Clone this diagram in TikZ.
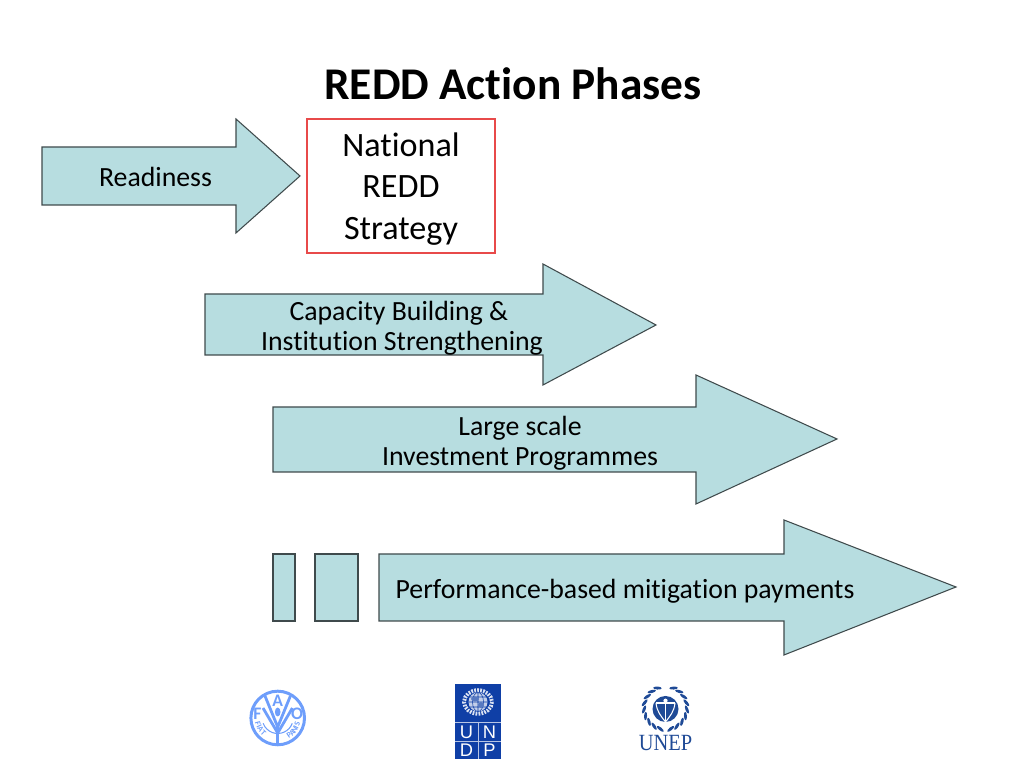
\documentclass[tikz,border=0pt]{standalone}
\usepackage{fontspec}
\setmainfont[Ligatures=CommonOff]{Carlito}
\newfontfamily\unepfont{Liberation Serif}
\newfontfamily\undpfont{Liberation Sans}
\usetikzlibrary{calc}
\definecolor{arrowfill}{HTML}{B7DDE0}
\definecolor{arrowline}{HTML}{3F4A4C}
\definecolor{faoblue}{HTML}{6E9EFB}
\definecolor{undpblue}{HTML}{0F3FA6}
\definecolor{unepblue}{HTML}{1F4A96}
\definecolor{boxred}{HTML}{E84A4A}
\tikzset{
  phase/.style={draw=arrowline,fill=arrowfill,line width=0.3pt},
  phaselabel/.style={align=center,font=\fontsize{7.9}{8.6}\selectfont},
  strategylabel/.style={align=center,font=\fontsize{9.7}{11.7}\selectfont},
  faoletter/.style={text=faoblue,inner sep=0pt,font=\fontsize{5}{6}\selectfont\bfseries},
  faosmall/.style={text=faoblue,inner sep=0pt,font=\fontsize{2.3}{3}\selectfont\bfseries}
}
\begin{document}
\begin{tikzpicture}[x=0.01cm,y=-0.01cm]
      \useasboundingbox (0,0) rectangle (1024,768);
      \node (title) at (513,84) {\fontsize{12.9}{15}\selectfont\bfseries REDD Action Phases};
      % arrows
      \draw[phase] (42,147) -- (236,147) -- (236,119) -- (300,176) -- (236,233) -- (236,205) -- (42,205) -- cycle;
      \draw[phase] (205,294) -- (543,294) -- (543,264) -- (656,325) -- (543,385) -- (543,355) -- (205,355) -- cycle;
      \draw[phase] (273,407) -- (696,407) -- (696,375) -- (837,439) -- (696,504) -- (696,472) -- (273,472) -- cycle;
      \draw[phase] (379,554) -- (784,554) -- (784,520) -- (956,587) -- (784,655) -- (784,621) -- (379,621) -- cycle;
      \draw[phase] (273,554) rectangle (295,621);
      \draw[phase] (315,554) rectangle (358,621);
      \draw[draw=boxred,line width=0.3pt] (307,119) rectangle (495,253);
      % labels
      \node[phaselabel] (readiness) at (155.5,177) {Readiness};
      \node[strategylabel] (strategy) at (401,189) {National\\REDD\\Strategy};
      \node[phaselabel] (capacity) at (402,328) {Capacity Building \&\ \mbox{}\\Institution Strengthening};
      \node[phaselabel] (investment) at (520,443) {Large scale\\Investment Programmes};
      \node[phaselabel] (payments) at (625,591) {Performance-based mitigation payments};
      % FAO
      \begin{scope}[faoblue]
        \draw[line width=0.85pt] (277.7,718) circle (26.8);
        \draw[line width=0.3pt] (277.7,718) ++(20:15.5) arc (20:160:15.5);
        \draw[line width=0.8pt] (265,696) -- (277.7,727) -- (290.4,696);
        \draw[line width=0.8pt] (263,708) -- (277.7,733) -- (292.4,708);
        \draw[line width=0.9pt] (277.7,724) -- (277.7,745);
        \fill (277.7,712) ellipse (2.8 and 4.5);
        \node[faoletter] (faoa) at (277.7,701) {A};
        \node[faoletter] (faof) at (257.5,714) {F};
        \node[faoletter] (faoo) at (297,714) {O};
        \foreach \letter/\ang in {F/165,I/155,A/146,T/134} {
          \node[faosmall,rotate=90-\ang] (fiat\letter) at ($(277.7,718)+(\ang:20.5)$) {\letter};
        }
        \foreach \letter/\ang in {P/56,A/45,N/35,I/27,S/18} {
          \node[faosmall,rotate=90-\ang] (panis\letter) at ($(277.7,718)+(\ang:20.5)$) {\letter};
        }
      \end{scope}
      % UNDP
      \fill[undpblue] (455,684) rectangle (501,759);
      \draw[white!70!undpblue,line width=0.25pt] (455,722) -- (501,722) (478,722) -- (478,759) (455,741) -- (501,741);
      \fill[white!75!undpblue] (478,702) circle (9.5);
      \draw[undpblue,line width=0.15pt] (478,702) ellipse (5.5 and 9.5) (468.5,702) -- (487.5,702) (470,697) -- (486,697) (470,707) -- (486,707) (478,692.5) -- (478,711.5);
      \fill[undpblue!70!white] (475,699) ellipse (4 and 2.5) (481,705) ellipse (3 and 3);
      \draw[white!85!undpblue,line width=1.1pt,dash pattern=on 0.5pt off 0.35pt] (478,702) ellipse (14 and 11.8);
      \foreach \letter/\px/\py in {U/466.5/732,N/489.5/732,D/466.5/750.5,P/489.5/750.5} {
        \node[text=white,inner sep=0pt,font=\undpfont\fontsize{5.2}{6}\selectfont] (undp\letter) at (\px,\py) {\letter};
      }
      % UNEP
      \fill[unepblue] (665.5,709) circle (13);
      \fill[white] (665.5,700.7) circle (2.1);
      \draw[white,line width=0.3pt] (656,703) -- (675,703);
      \draw[white,line width=0.55pt] (665.5,703) -- (665.5,722);
      \draw[white,line width=0.3pt] (656,703) .. controls (657,712) and (661,716) .. (665.5,722);
      \draw[white,line width=0.3pt] (675,703) .. controls (674,712) and (670,716) .. (665.5,722);
      \foreach \ang in {112,130,...,256} {
        \fill[unepblue,shift={(665.5,708)},rotate=\ang,shift={(21.5,0)},rotate=-25] (0,0) ellipse (1.5 and 4.3);
      }
      \foreach \ang in {-76,-58,...,68} {
        \fill[unepblue,shift={(665.5,708)},rotate=\ang,shift={(21.5,0)},rotate=25] (0,0) ellipse (1.5 and 4.3);
      }
      \node[text=unepblue,inner sep=0pt,xscale=0.88,font=\unepfont\fontsize{6.6}{7}\selectfont] (unep) at (665.5,743.5) {UNEP};
    \end{tikzpicture}
\end{document}
